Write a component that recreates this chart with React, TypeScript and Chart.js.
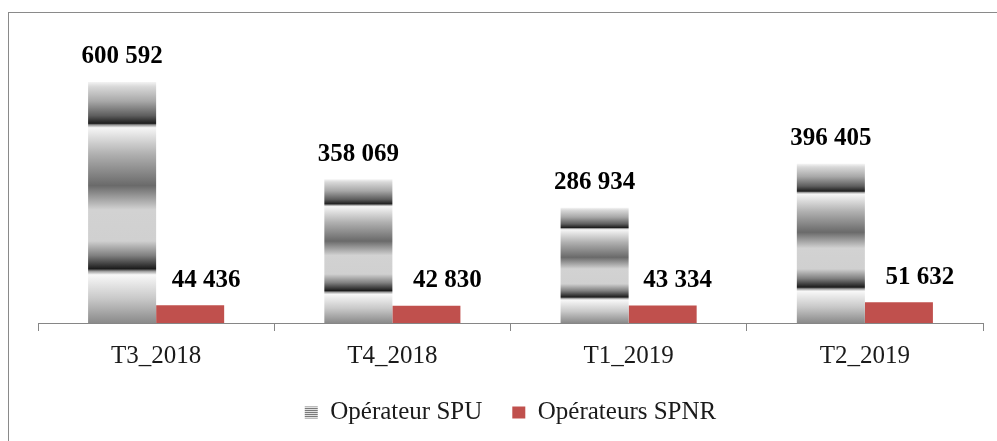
import React, { useEffect, useRef } from "react";
import { Chart, registerables } from "chart.js";

Chart.register(...registerables);

const categories = ["T3_2018", "T4_2018", "T1_2019", "T2_2019"];
const spuValues = [600592, 358069, 286934, 396405];
const spnrValues = [44436, 42830, 43334, 51632];
const seriesNames = ["Opérateur SPU", "Opérateurs SPNR"];
const yMax = 700000;

// horizontal nudge of value labels (style), per dataset
const labelShiftX = [
  [0, 0, 0, 0],
  [16, 21, 15, 21],
];

const FONT = "'Liberation Serif', 'Times New Roman', serif";
const RED = "#C0504D";

const gradientStops: [number, string][] = [
  [0, "#f4f4f4"],
  [0.02, "#d8d8d8"],
  [0.08, "#a8a8a8"],
  [0.14, "#5e5e5e"],
  [0.172, "#1e1e1e"],
  [0.178, "#909090"],
  [0.19, "#f6f6f6"],
  [0.3, "#b0b0b0"],
  [0.43, "#6a6a6a"],
  [0.53, "#d2d2d2"],
  [0.66, "#d0d0d0"],
  [0.72, "#808080"],
  [0.775, "#1c1c1c"],
  [0.785, "#999999"],
  [0.8, "#f8f8f8"],
  [0.9, "#c8c8c8"],
  [1, "#8a8a8a"],
];

function fmt(v: number): string {
  return String(v).replace(/\B(?=(\d{3})+(?!\d))/g, " ");
}

function stripePattern(ctx: CanvasRenderingContext2D): CanvasPattern | string {
  const c = document.createElement("canvas");
  c.width = 4;
  c.height = 2;
  const p = c.getContext("2d");
  if (!p) return "#999";
  p.fillStyle = "#e0e0e0";
  p.fillRect(0, 0, 4, 2);
  p.fillStyle = "#7a7a7a";
  p.fillRect(0, 0, 4, 1);
  return ctx.createPattern(c, "repeat") || "#999";
}

const borderPlugin = {
  id: "outerBorder",
  beforeDraw(chart: any) {
    const ctx = chart.ctx;
    ctx.save();
    ctx.fillStyle = "#ffffff";
    ctx.fillRect(0, 0, chart.width, chart.height);
    ctx.strokeStyle = "#8a8a8a";
    ctx.lineWidth = 1;
    ctx.strokeRect(8.5, 12.5, 1000, 440);
    ctx.restore();
  },
};

const labelPlugin = {
  id: "valueLabels",
  afterDatasetsDraw(chart: any) {
    const ctx = chart.ctx;
    ctx.save();
    ctx.font = `bold 25px ${FONT}`;
    ctx.fillStyle = "#000000";
    ctx.textAlign = "center";
    ctx.textBaseline = "alphabetic";
    chart.data.datasets.forEach((ds: any, di: number) => {
      const meta = chart.getDatasetMeta(di);
      meta.data.forEach((bar: any, i: number) => {
        const dx = (labelShiftX[di] && labelShiftX[di][i]) || 0;
        ctx.fillText(fmt(ds.data[i]), bar.x + dx, bar.y - 18.5);
      });
    });
    ctx.restore();
  },
};

export default function App() {
  const ref = useRef<HTMLCanvasElement | null>(null);

  useEffect(() => {
    const canvas = ref.current;
    if (!canvas) return;
    const chart = new Chart(canvas, {
      type: "bar",
      data: {
        labels: categories,
        datasets: [
          {
            label: seriesNames[0],
            data: spuValues,
            backgroundColor: (c: any) => {
              if (c.type !== "data") return "#999999";
              const ch = c.chart;
              const y = ch.scales && ch.scales.y;
              if (!y) return "#999999";
              const top = y.getPixelForValue(c.raw);
              const base = y.getPixelForValue(0);
              if (!isFinite(top) || !isFinite(base) || top === base) return "#999999";
              const g = ch.ctx.createLinearGradient(0, top, 0, base);
              gradientStops.forEach(([t, col]) => g.addColorStop(t, col));
              return g;
            },
            borderWidth: 0,
          },
          {
            label: seriesNames[1],
            data: spnrValues,
            backgroundColor: RED,
            borderWidth: 0,
          },
        ],
      },
      options: {
        responsive: false,
        animation: false,
        categoryPercentage: 0.576,
        barPercentage: 1.0,
        layout: { padding: { top: 42, left: 38, right: 14, bottom: 6 } },
        scales: {
          x: {
            grid: {
              display: true,
              drawOnChartArea: false,
              drawTicks: true,
              tickLength: 8,
              color: "#868686",
              offset: true,
            },
            border: { display: true, color: "#868686", width: 1 },
            ticks: {
              font: { family: FONT, size: 25 },
              color: "#1a1a1a",
              padding: 10,
            },
            afterFit: (scale: any) => {
              scale.height = scale.height - 11;
            },
          },
          y: { display: false, min: 0, max: yMax },
        },
        plugins: {
          legend: {
            position: "bottom",
            labels: {
              font: { family: FONT, size: 25 },
              color: "#1a1a1a",
              boxWidth: 13,
              boxHeight: 12,
              padding: 30,
              generateLabels: (ch: any) => {
                const items = Chart.defaults.plugins.legend.labels.generateLabels(ch);
                items.forEach((it: any, i: number) => {
                  it.fillStyle = i === 0 ? stripePattern(ch.ctx) : RED;
                  it.strokeStyle = "rgba(0,0,0,0)";
                  it.lineWidth = 0;
                });
                return items;
              },
            },
          },
          tooltip: { enabled: false },
        },
      },
      plugins: [borderPlugin, labelPlugin],
    });
    return () => chart.destroy();
  }, []);

  return (
    <div style={{ position: "absolute", left: 0, top: 0, width: 997, height: 441 }}>
      <canvas ref={ref} width={997} height={441} style={{ display: "block" }} />
    </div>
  );
}
